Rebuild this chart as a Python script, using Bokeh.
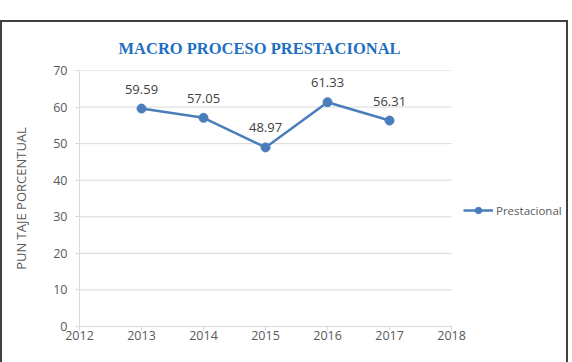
from bokeh.plotting import figure
from bokeh.models import (Range1d, FixedTicker, Legend, LegendItem,
                          ColumnDataSource, Title)
from bokeh.core.properties import value
from bokeh.embed import file_html
from bokeh.resources import INLINE

years = [2013, 2014, 2015, 2016, 2017]
scores = [59.59, 57.05, 48.97, 61.33, 56.31]
labels = ["59.59", "57.05", "48.97", "61.33", "56.31"]
x_ticks = [2012, 2013, 2014, 2015, 2016, 2017, 2018]
y_ticks = [0, 10, 20, 30, 40, 50, 60, 70]
series_name = "Prestacional"
title_text = "MACRO PROCESO PRESTACIONAL"
y_label = "PUN TAJE PORCENTUAL"

BLUE = "#4A7EBB"
GREY_TXT = "#595959"
GRID = "#D9D9D9"
FONT = "Open Sans"
BORDER = "2px solid #404040"

# layout: plot area spans 2012..2018 over 369px; extra room on the right for the legend
PX_PER_YEAR = 369 / 6
EXTRA = 116 / PX_PER_YEAR

src = ColumnDataSource(dict(x=years, y=scores, t=labels))
gsrc = ColumnDataSource(dict(x0=[x_ticks[0]] * len(y_ticks),
                             x1=[x_ticks[-1]] * len(y_ticks), y=y_ticks))

p = figure(width=564, height=340, output_backend="svg", toolbar_location=None,
           x_range=Range1d(x_ticks[0], x_ticks[-1] + EXTRA), y_range=Range1d(0, 70),
           min_border_left=77, min_border_right=2, min_border_top=48,
           min_border_bottom=38,
           styles={"margin-top": "20px", "border-top": BORDER,
                   "border-left": BORDER, "border-right": BORDER,
                   "box-sizing": "content-box"})
p.outline_line_color = None
p.background_fill_color = "white"
p.border_fill_color = "white"

t = Title(text=title_text, align="left", offset=39, text_font="Liberation Serif",
          text_font_size="16.5px", text_font_style="bold", text_color="#1F70C1",
          standoff=26)
p.title = None
p.add_layout(t, "above")

p.xaxis.ticker = FixedTicker(ticks=x_ticks)
p.yaxis.ticker = FixedTicker(ticks=y_ticks)
p.xaxis.bounds = (x_ticks[0], x_ticks[-1])
for ax in (p.xaxis[0], p.yaxis[0]):
    ax.axis_line_color = GRID
    ax.major_tick_line_color = GRID
    ax.minor_tick_line_color = None
    ax.major_tick_in = 0
    ax.major_tick_out = 4
    ax.major_label_text_color = GREY_TXT
    ax.major_label_text_font = FONT
ax = p.xaxis[0]
ax.major_label_text_font_size = "12.5px"
ax.major_label_standoff = 0
ay = p.yaxis[0]
ay.major_label_text_font_size = "12.5px"
ay.major_label_standoff = 8
ay.axis_label = y_label
ay.axis_label_text_font = FONT
ay.axis_label_text_font_size = "13px"
ay.axis_label_text_font_style = "normal"
ay.axis_label_text_color = GREY_TXT
ay.axis_label_standoff = 20

p.xgrid.grid_line_color = None
p.ygrid.grid_line_color = None
p.segment("x0", "y", "x1", "y", source=gsrc, line_color=GRID, line_width=1)

ln = p.line("x", "y", source=src, line_color=BLUE, line_width=2.5)
sc = p.scatter("x", "y", source=src, size=9, fill_color=BLUE, line_color=BLUE)
p.text("x", "y", text="t", source=src, y_offset=-15, text_align="center",
       text_baseline="bottom", text_font=value(FONT), text_font_size="13px",
       text_color="#404040")

legend = Legend(items=[LegendItem(label=series_name, renderers=[ln, sc])],
                location=(384, 108), border_line_color=None,
                background_fill_alpha=0, label_text_font=FONT,
                label_text_font_size="11.5px", label_text_color=GREY_TXT,
                glyph_width=30, glyph_height=16, padding=0, margin=0,
                label_standoff=3)
p.add_layout(legend, "center")

open("out.html", "w").write(file_html(p, INLINE))
